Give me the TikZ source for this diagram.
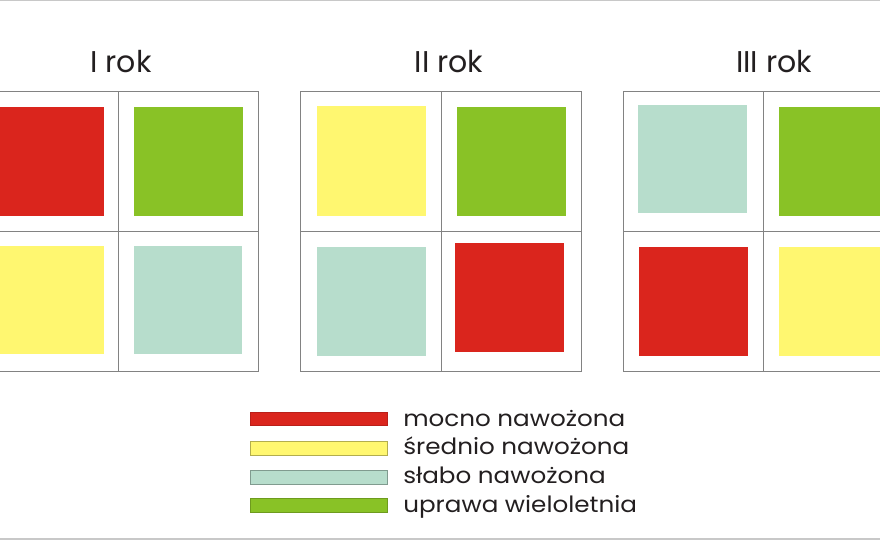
\documentclass[tikz,border=0pt]{standalone}
\usepackage{fontspec}
\setmainfont{Poppins}
\newfontfamily\legendfont[FakeStretch=1.1]{Poppins}
\definecolor{mocno}{RGB}{218,37,29}
\definecolor{srednio}{RGB}{255,247,112}
\definecolor{slabo}{RGB}{183,221,204}
\definecolor{wielo}{RGB}{137,194,38}
\definecolor{ramka}{RGB}{130,130,130}
\definecolor{napis}{RGB}{35,31,32}

\begin{document}
\begin{tikzpicture}[x=0.75pt,y=0.75pt,yscale=-1,xscale=1,
  frame/.style={draw=ramka,line width=0.6pt},
  bar/.style={line width=0.5pt},
  title/.style={text=napis,font=\fontsize{22.5}{26}\selectfont,inner sep=0pt},
  legend/.style={text=napis,font=\legendfont\fontsize{16.8}{20}\selectfont,inner sep=0pt,anchor=base west}]
\useasboundingbox (0,0) rectangle (880,540);

%Straight Lines: top and bottom border
\draw [color={rgb, 255:red, 200; green, 200; blue, 200 }, line width=0.9pt] (0,0.6) -- (880,0.6) ;
\draw [color={rgb, 255:red, 200; green, 200; blue, 200 }, line width=0.9pt] (0,539) -- (880,539) ;

%Shape: Grid I rok
\draw [frame] (-21.5,91) rectangle (258.5,371) ;
\draw [frame] (118.5,91) -- (118.5,371) ;
\draw [frame] (-21.5,231) -- (258.5,231) ;
%Shape: Squares I rok
\fill [mocno] (-5,107) rectangle (104,215.5) ;
\fill [wielo] (134,107) rectangle (243,215.5) ;
\fill [srednio] (-5,246) rectangle (103.5,354) ;
\fill [slabo] (133.5,246) rectangle (242,354) ;

%Shape: Grid II rok
\draw [frame] (300.7,91) rectangle (581.5,371.5) ;
\draw [frame] (441.3,91) -- (441.3,371.5) ;
\draw [frame] (300.7,231) -- (581.5,231) ;
%Shape: Squares II rok
\fill [srednio] (316.7,106.3) rectangle (425.7,215.7) ;
\fill [wielo] (456.7,106.7) rectangle (565.7,215.7) ;
\fill [slabo] (316.7,246.7) rectangle (425.7,356) ;
\fill [mocno] (455,243.3) rectangle (563.7,352.3) ;

%Shape: Grid III rok
\draw [frame] (623.3,91) rectangle (903.3,371.3) ;
\draw [frame] (763.2,91) -- (763.2,371.3) ;
\draw [frame] (623.3,231) -- (903.3,231) ;
%Shape: Squares III rok
\fill [slabo] (638,105.3) rectangle (747,213.3) ;
\fill [wielo] (779,107) rectangle (888,215.7) ;
\fill [mocno] (639,247) rectangle (748,355.7) ;
\fill [srednio] (779,247) rectangle (888,356) ;

% Text Node
\node [title, anchor=base] (rok1) at (121,72) {I rok};
% Text Node
\node [title, anchor=base] (rok2) at (449,72) {II rok};
% Text Node
\node [title, anchor=base] (rok3) at (774,72) {III rok};

%Shape: Legend bars
\draw [bar, draw=mocno!85!black, fill=mocno] (250,412.3) rectangle (387.3,425.7) ;
\draw [bar, draw=srednio!70!black, fill=srednio] (250,441) rectangle (387.3,455) ;
\draw [bar, draw=slabo!70!black, fill=slabo] (250,470) rectangle (387.3,484) ;
\draw [bar, draw=wielo!80!black, fill=wielo] (250,498.3) rectangle (387.3,512.7) ;

% Text Node
\node [legend] (mocnoL) at (403,426) {mocno nawożona};
% Text Node
\node [legend] (srednioL) at (403,454.7) {średnio nawożona};
% Text Node
\node [legend] (slaboL) at (403,483.3) {słabo nawożona};
% Text Node
\node [legend] (wieloL) at (403,512) {uprawa wieloletnia};

\end{tikzpicture}
\end{document}
